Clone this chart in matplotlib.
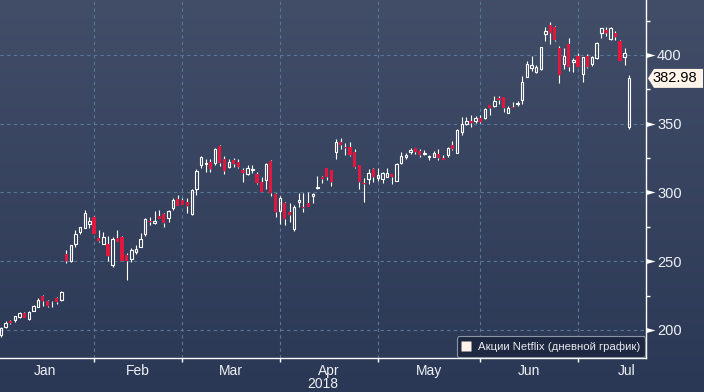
import matplotlib
matplotlib.use("Agg")
import matplotlib.pyplot as plt
import numpy as np
from matplotlib.lines import Line2D
from matplotlib.patches import Polygon
from matplotlib.path import Path
import matplotlib.transforms as mtransforms

# ---------------- data (daily candles, Jan 2 - Jul 17, 2018) ----------------
opens = [196.0, 202.0, 206.6, 207.3, 209.5, 212.6, 207.8, 214.1, 217.0, 224.5,
         221.1, 220.6, 223.3, 221.8, 255.3, 250.4, 262.6, 271.5, 274.4, 277.3,
         282.4, 267.2, 262.6, 262.6, 247.5, 266.9, 267.6, 254.3, 251.9, 256.9,
         260.6, 269.8, 279.3, 277.8, 282.9, 284.4, 281.2, 288.5, 295.0, 294.3,
         293.1, 284.4, 302.5, 320.2, 320.7, 322.4, 321.7, 333.8, 324.1, 318.3,
         323.6, 322.4, 316.4, 313.2, 316.4, 313.5, 307.6, 309.1, 322.9, 298.9,
         286.8, 292.1, 286.1, 273.2, 293.3, 289.2, 292.1, 297.7, 302.9, 311.5,
         318.1, 316.4, 329.7, 336.5, 333.3, 332.8, 329.2, 320.0, 306.7, 309.8,
         317.1, 310.8, 309.8, 311.5, 313.2, 308.6, 321.7, 326.1, 329.2, 332.1,
         330.0, 327.8, 326.1, 326.1, 327.8, 325.3, 327.3, 334.3, 329.0, 344.2,
         349.8, 352.0, 352.2, 354.4, 353.9, 363.6, 362.9, 369.0, 369.2, 358.1,
         362.4, 364.1, 367.3, 384.2, 390.8, 387.9, 389.6, 415.3, 421.8, 420.1,
         404.8, 393.5, 407.8, 395.2, 399.5, 385.9, 399.5, 393.5, 397.6, 416.2,
         418.2, 411.4, 415.8, 410.2, 398.8, 347.4]
highs = [202.4, 206.6, 207.2, 210.3, 213.3, 213.2, 213.6, 218.5, 223.0, 225.5,
         222.0, 221.1, 224.3, 228.4, 258.2, 261.9, 272.7, 275.2, 287.3, 282.4,
         283.2, 272.7, 271.0, 268.6, 267.9, 272.7, 268.3, 255.8, 259.4, 261.8,
         270.3, 281.2, 281.9, 286.5, 287.3, 284.8, 287.3, 295.8, 298.2, 295.8,
         295.8, 302.3, 317.1, 326.5, 324.4, 324.1, 332.1, 334.5, 326.5, 324.4,
         324.8, 324.4, 318.0, 320.0, 320.0, 314.7, 311.0, 321.7, 323.6, 299.9,
         297.5, 293.3, 292.1, 290.9, 299.9, 299.9, 300.6, 299.9, 312.0, 312.0,
         318.1, 316.4, 338.9, 339.4, 335.8, 336.5, 331.6, 320.0, 310.3, 317.1,
         317.6, 318.1, 314.7, 317.6, 313.2, 321.2, 329.2, 328.5, 332.6, 332.6,
         331.5, 330.9, 327.5, 329.9, 331.4, 327.0, 332.8, 337.2, 345.9, 354.7,
         354.7, 356.1, 355.6, 356.4, 361.2, 363.6, 370.2, 370.2, 369.2, 363.0,
         366.1, 366.5, 384.7, 395.9, 399.3, 392.7, 405.6, 420.6, 424.2, 421.3,
         406.5, 405.3, 412.1, 397.6, 401.2, 398.8, 400.5, 399.5, 409.2, 419.9,
         420.6, 420.1, 417.5, 410.9, 404.8, 385.5]
lows = [195.2, 201.2, 204.5, 206.1, 209.0, 208.5, 207.5, 213.5, 216.5, 217.5,
        216.7, 216.7, 218.7, 221.0, 249.0, 249.2, 260.6, 269.6, 273.9, 274.0,
        269.8, 264.3, 262.4, 250.4, 245.6, 264.0, 250.0, 236.4, 249.7, 255.3,
        260.1, 268.4, 276.4, 277.1, 280.5, 274.7, 278.8, 287.3, 290.2, 290.7,
        284.8, 283.6, 298.2, 317.6, 315.1, 315.1, 320.0, 319.3, 313.5, 317.6,
        318.8, 318.0, 307.9, 312.7, 314.4, 306.2, 300.6, 302.5, 297.5, 282.4,
        277.1, 276.4, 278.8, 272.2, 289.7, 286.1, 289.7, 292.6, 302.8, 306.7,
        309.1, 304.7, 324.4, 331.6, 327.3, 326.8, 317.6, 302.5, 293.3, 305.9,
        307.4, 308.4, 306.7, 311.0, 305.9, 308.6, 320.5, 324.1, 328.0, 328.0,
        325.8, 327.3, 323.6, 325.6, 323.6, 323.6, 326.1, 330.9, 329.0, 341.8,
        349.1, 347.9, 350.3, 350.3, 353.5, 356.4, 362.4, 364.4, 358.8, 357.6,
        361.7, 362.9, 364.4, 384.2, 388.6, 386.7, 389.2, 410.4, 407.8, 410.4,
        379.9, 389.8, 388.6, 387.9, 391.0, 380.6, 390.3, 392.0, 396.8, 412.1,
        414.1, 410.9, 410.9, 395.9, 392.7, 345.9]
closes = [201.7, 205.1, 205.4, 210.0, 212.4, 209.0, 213.4, 217.5, 221.8, 221.4,
          217.5, 220.0, 220.1, 227.6, 250.2, 261.8, 269.8, 274.7, 284.9, 279.3,
          269.8, 265.0, 267.4, 254.1, 266.4, 264.2, 250.2, 249.9, 258.2, 258.9,
          266.2, 280.5, 278.5, 279.5, 280.7, 277.6, 286.5, 294.5, 290.2, 291.1,
          290.4, 301.5, 315.6, 325.6, 321.4, 317.1, 331.4, 321.2, 315.9, 321.9,
          320.5, 318.8, 313.9, 317.6, 316.9, 306.7, 300.6, 320.7, 299.9, 286.1,
          295.8, 280.5, 283.6, 289.2, 294.5, 288.7, 289.7, 298.9, 304.0, 309.8,
          311.5, 307.4, 336.5, 334.5, 332.6, 327.3, 318.8, 307.4, 305.9, 313.9,
          311.5, 312.7, 313.9, 313.9, 311.5, 320.5, 326.5, 327.3, 330.9, 329.7,
          327.0, 328.8, 326.5, 328.5, 324.9, 323.6, 332.1, 331.4, 345.5, 349.8,
          351.8, 350.3, 354.4, 351.5, 360.5, 361.7, 366.5, 367.3, 361.7, 361.2,
          361.7, 364.9, 380.6, 393.5, 392.7, 391.0, 405.6, 417.5, 415.8, 410.9,
          385.5, 399.5, 391.0, 396.4, 391.5, 398.3, 391.0, 398.8, 408.5, 419.4,
          415.8, 419.4, 413.3, 395.9, 401.7, 382.98]

month_labels = ["Jan", "Feb", "Mar", "Apr", "May", "Jun", "Jul"]
# index of the last trading day before each month boundary (Jan..Aug)
month_edges = [-1, 20, 39, 60, 81, 103, 124, 145]
year_label = "2018"
y_ticks = [200, 250, 300, 350, 400]
y_minor = [225, 275, 325, 375, 425]
last_price = 382.98
legend_label = "Акции Netflix (дневной график)"

# ---------------- styling ----------------
plt.rcParams['font.family'] = ['Liberation Sans', 'DejaVu Sans']
W, Hpx = 704, 392
RED = '#e2173d'
TXT = '#eef1f6'
GRID = '#5a7896'

fig = plt.figure(figsize=(W / 100, Hpx / 100), dpi=100)

# gradient background over whole figure
bg = fig.add_axes([0, 0, 1, 1], zorder=-10)
g = np.linspace(0, 1, 256)[:, None, None]
top = np.array([66, 78, 104]) / 255
bot = np.array([43, 56, 85]) / 255
img = top * (1 - g) + bot * g
bg.imshow(img, aspect='auto', extent=[0, 1, 0, 1], origin='upper')
bg.axis('off')

ax_right = 646 / W
ax_bottom = (Hpx - 358) / Hpx
ax = fig.add_axes([0, ax_bottom, ax_right, 1 - ax_bottom])
ax.patch.set_alpha(0)

O = np.array(opens); Hh = np.array(highs); L = np.array(lows); C = np.array(closes)
x = np.arange(len(O))
up = C >= O
blo = np.minimum(O, C)
bhi = np.maximum(O, C)
bh = np.maximum(bhi - blo, 0.45)

ax.vlines(x, bhi, Hh, color='white', lw=0.8, zorder=3)
ax.vlines(x, L, blo, color='white', lw=0.8, zorder=3)
ax.bar(x[up], bh[up], bottom=blo[up], width=0.52, facecolor='none',
       edgecolor='white', linewidth=0.8, zorder=4)
ax.bar(x[~up], bh[~up], bottom=blo[~up], width=0.68, color=RED,
       linewidth=0, zorder=4)

ax.set_xlim(-0.215, 138.6)
ax.set_ylim(179.6, 440)

# spines
for s in ['top', 'left']:
    ax.spines[s].set_visible(False)
for s in ['right', 'bottom']:
    ax.spines[s].set_color('white')
    ax.spines[s].set_linewidth(1.0)

# x axis
ax.set_xticks(month_edges[1:-1])
ax.set_xticks([(a + b) / 2 for a, b in zip(month_edges[:-1], month_edges[1:])], minor=True)
ax.set_xticklabels([])
ax.set_xticklabels(month_labels, minor=True)
ax.tick_params(axis='x', which='major', length=3, width=1, color='white', direction='out')
ax.tick_params(axis='x', which='minor', length=0, pad=4, labelsize=10, labelcolor=TXT)
ax.text(0.5, -(383.5 - 358) / 358, year_label, transform=ax.transAxes,
        ha='center', va='center', fontsize=10, color=TXT)

# y axis on right
ax.yaxis.tick_right()
ax.set_yticks(y_ticks)
ax.set_yticks(y_minor, minor=True)
ax.set_yticklabels([str(v) for v in y_ticks])
ax.tick_params(axis='y', which='major', length=0, pad=8, labelsize=10.5, labelcolor=TXT)
ax.tick_params(axis='y', which='minor', length=3, width=1, color='white', direction='out')

tri = Path([(0, 0.28), (0, -0.28), (1, 0), (0, 0.28)],
           [Path.MOVETO, Path.LINETO, Path.LINETO, Path.CLOSEPOLY])
trans_ax_y = mtransforms.blended_transform_factory(ax.transAxes, ax.transData)
ax.plot([1.0] * len(y_ticks), y_ticks, ls='', marker=tri, ms=13, color='white',
        mec='none', transform=trans_ax_y, clip_on=False, zorder=6)

# grid
ax.grid(True, which='major', color=GRID, ls=(0, (3, 3)), lw=0.8)
ax.set_axisbelow(True)

# last price label
tf = mtransforms.blended_transform_factory(fig.transFigure, ax.transData)
hh = 6.9
poly = Polygon([(648 / W, last_price), (654 / W, last_price + hh), (703 / W, last_price + hh),
                (703 / W, last_price - hh), (654 / W, last_price - hh)], closed=True,
               transform=tf, facecolor='#fff4ea', edgecolor='none', clip_on=False, zorder=10)
ax.add_patch(poly)
ax.text(675 / W, last_price, f"{last_price:.2f}", transform=tf, ha='center', va='center',
        fontsize=10.5, color='black', zorder=11, clip_on=False)

# legend
handle = Line2D([], [], ls='', marker='s', ms=7, color='#fdf2ec', mec='none')
leg = ax.legend([handle], [legend_label], loc='lower right',
                bbox_to_anchor=(1 - 1 / 646, 1 / 358), borderaxespad=0,
                fontsize=8.2, frameon=True, fancybox=True, handlelength=0.8,
                handletextpad=0.6, borderpad=0.45, labelcolor='#e6e9ef')
fr = leg.get_frame()
fr.set_facecolor('#1e2840')
fr.set_edgecolor('#8a96a8')
fr.set_linewidth(0.8)
fr.set_alpha(1)
leg.set_zorder(8)

fig.savefig("out.png", dpi=100)
